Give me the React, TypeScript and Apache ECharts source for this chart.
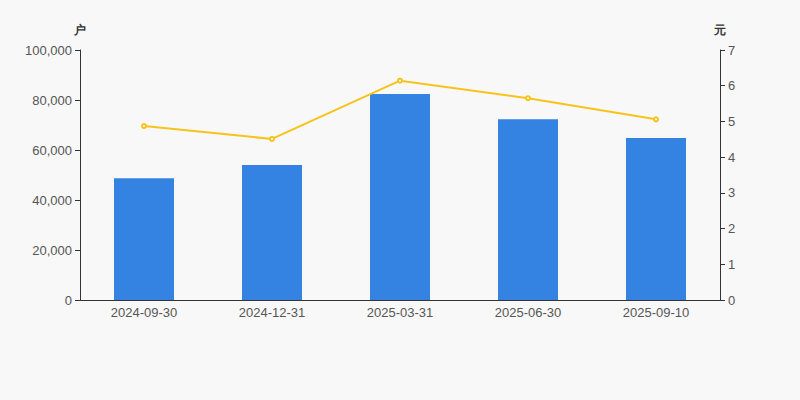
import React, { useEffect, useRef } from "react";
import * as echarts from "echarts";

const categories = ["2024-09-30", "2024-12-31", "2025-03-31", "2025-06-30", "2025-09-10"];
const households = [48700, 54000, 82400, 72300, 64800];
const price = [4.87, 4.51, 6.14, 5.65, 5.06];

export default function App() {
  const ref = useRef<HTMLDivElement>(null);
  useEffect(() => {
    const chart = echarts.init(ref.current!, null, { renderer: "svg" });
    const axisText = { color: "#555", fontSize: 13, fontFamily: "Liberation Sans, Arial, sans-serif" };
    chart.setOption({
      animation: false,
      backgroundColor: "#f8f8f8",
      grid: { left: 80, right: 80, top: 50, bottom: 100 },
      xAxis: {
        type: "category",
        data: categories,
        axisLine: { lineStyle: { color: "#333" } },
        axisTick: { lineStyle: { color: "#333" } },
        axisLabel: { ...axisText, margin: 6 },
      },
      yAxis: [
        {
          type: "value",
          name: "户",
          min: 0,
          max: 100000,
          interval: 20000,
          nameGap: 14,
          nameTextStyle: { color: "#333", fontSize: 12, fontWeight: "bold" },
          axisLine: { show: true, lineStyle: { color: "#333" } },
          axisTick: { show: true, lineStyle: { color: "#333" } },
          splitLine: { show: false },
          axisLabel: { ...axisText, margin: 8, formatter: (v: number) => v.toLocaleString("en-US") },
        },
        {
          type: "value",
          name: "元",
          min: 0,
          max: 7,
          interval: 1,
          nameGap: 14,
          nameTextStyle: { color: "#333", fontSize: 12, fontWeight: "bold" },
          axisLine: { show: true, lineStyle: { color: "#333" } },
          axisTick: { show: true, lineStyle: { color: "#333" } },
          splitLine: { show: false },
          axisLabel: { ...axisText, margin: 8 },
        },
      ],
      series: [
        {
          type: "bar",
          data: households,
          barWidth: 60,
          itemStyle: { color: "#3483e3" },
        },
        {
          type: "line",
          yAxisIndex: 1,
          data: price,
          symbol: "emptyCircle",
          symbolSize: 4,
          lineStyle: { color: "#f7c31a", width: 2 },
          itemStyle: { color: "#f7c31a" },
        },
      ],
    });
    return () => chart.dispose();
  }, []);
  return <div ref={ref} style={{ width: 800, height: 400, position: "fixed", left: 0, top: 0 }} />;
}
